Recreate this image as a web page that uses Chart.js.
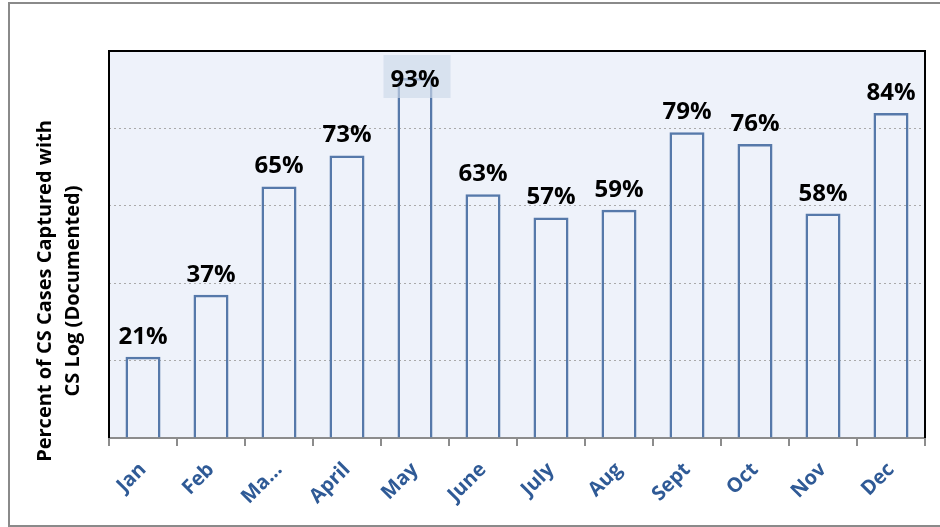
<!DOCTYPE html>
<html>
<head>
<meta charset="utf-8">
<script src="https://cdn.jsdelivr.net/npm/chart.js@4/dist/chart.umd.min.js"></script>
<style>
  html, body { margin: 0; padding: 0; background: #fff; }
  #wrap { width: 940px; height: 527px; position: relative; }
</style>
</head>
<body>
<div id="wrap"><canvas id="chart" width="940" height="527"></canvas></div>
<script>
// data
const months = ['Jan', 'Feb', 'Ma…', 'April', 'May', 'June', 'July', 'Aug', 'Sept', 'Oct', 'Nov', 'Dec'];
const captured = [21, 37, 65, 73, 93, 63, 57, 59, 79, 76, 58, 84];
const yTitleLines = ['Percent of CS Cases Captured with', 'CS Log (Documented)'];
const yMin = 0, yMax = 100, yStep = 20;

const FONT = '"Open Sans", "DejaVu Sans", sans-serif';

// frame, plot background, plot border and y title
const framePlugin = {
  id: 'frame',
  beforeDraw(chart) {
    const c = chart.ctx, a = chart.chartArea;
    c.save();
    c.fillStyle = '#eef2fa';
    c.fillRect(a.left, a.top, a.right - a.left, a.bottom - a.top);
    // outer gray frame (no right side)
    c.strokeStyle = '#8a8a8a';
    c.lineWidth = 2;
    c.beginPath();
    c.moveTo(940, 3); c.lineTo(9, 3); c.lineTo(9, 526); c.lineTo(940, 526);
    c.stroke();
    c.restore();
  },
  afterDraw(chart) {
    const c = chart.ctx, a = chart.chartArea;
    c.save();
    c.strokeStyle = '#000';
    c.lineWidth = 2;
    c.beginPath();
    c.moveTo(a.left, a.bottom); c.lineTo(a.left, a.top); c.lineTo(a.right, a.top); c.lineTo(a.right, a.bottom);
    c.stroke();
    // y axis title, two rotated lines
    c.fillStyle = '#000';
    c.font = 'bold 20px ' + FONT;
    c.textAlign = 'center';
    c.textBaseline = 'middle';
    c.translate(0, 291);
    c.rotate(-Math.PI / 2);
    c.fillText(yTitleLines[0], 0, 45);
    c.fillText(yTitleLines[1], 0, 73);
    c.restore();
  }
};

// value labels over the bars
const valueLabels = {
  id: 'valueLabels',
  afterDatasetsDraw(chart) {
    const c = chart.ctx, a = chart.chartArea;
    const meta = chart.getDatasetMeta(0);
    c.save();
    c.font = 'bold 24px ' + FONT;
    c.textAlign = 'center';
    c.textBaseline = 'alphabetic';
    meta.data.forEach((bar, i) => {
      const txt = captured[i] + '%';
      let y = bar.y - 13;
      if (y - 20 < a.top) {
        // no room above: label sits inside with a shaded box
        const w = c.measureText(txt).width + 18;
        c.fillStyle = 'rgba(205,217,234,0.65)';
        c.fillRect(bar.x - w / 2 + 2, a.top + 4, w, 43);
        y = a.top + 36;
      }
      c.fillStyle = '#000';
      c.fillText(txt, bar.x, y);
    });
    c.restore();
  }
};

new Chart(document.getElementById('chart'), {
  type: 'bar',
  data: {
    labels: months,
    datasets: [{
      data: captured,
      backgroundColor: 'rgba(0,0,0,0)',
      borderColor: '#5679aa',
      borderWidth: 2.5,
      barPercentage: 0.515,
      categoryPercentage: 1
    }]
  },
  options: {
    responsive: false,
    animation: false,
    layout: { padding: { left: 109, top: 51, right: 15, bottom: 0 } },
    plugins: {
      legend: { display: false },
      tooltip: { enabled: false }
    },
    scales: {
      x: {
        grid: { display: true, offset: true, drawOnChartArea: false, drawTicks: true, tickLength: 8, color: '#8c8c8c', lineWidth: 2 },
        border: { color: '#8c8c8c', width: 2 },
        ticks: {
          color: '#2f5a96',
          font: { family: FONT, size: 20, weight: 'bold' },
          maxRotation: 45, minRotation: 45,
          padding: 12
        },
        afterFit(scale) { scale.height = 89; }
      },
      y: {
        min: yMin, max: yMax,
        ticks: { display: false, stepSize: yStep },
        grid: { color: '#aaaaaa', lineWidth: 1, drawTicks: false },
        border: { display: false, dash: [2, 3] },
        afterFit(scale) { scale.width = 0; }
      }
    }
  },
  plugins: [framePlugin, valueLabels]
});
</script>
</body>
</html>
